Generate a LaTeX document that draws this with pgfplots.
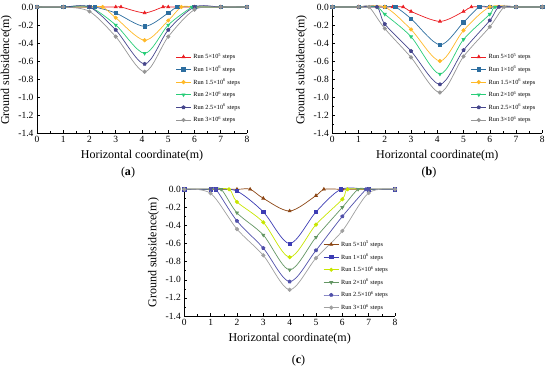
\documentclass[border=0pt]{standalone}
\usepackage{fontspec}
\setmainfont{Liberation Serif}
\usepackage{pgfplots}
\pgfplotsset{compat=1.18}
\usetikzlibrary{plotmarks}

\definecolor{aRed}{RGB}{235,30,35}
\definecolor{aBlue}{RGB}{45,110,160}
\definecolor{aOrange}{RGB}{255,185,40}
\definecolor{aGreen}{RGB}{40,205,120}
\definecolor{aPurple}{RGB}{70,70,140}
\definecolor{aGrey}{RGB}{150,150,150}
\definecolor{cBrown}{RGB}{140,70,20}
\definecolor{cBlue}{RGB}{60,60,180}
\definecolor{cYel}{RGB}{200,230,0}
\definecolor{cGreen}{RGB}{100,150,100}
\definecolor{cPurple}{RGB}{80,80,170}
\definecolor{cGrey}{RGB}{160,160,160}

\pgfplotsset{
 sub/.style={
  scale only axis, width=210pt, height=126pt,
  xmin=0,xmax=8,ymin=-1.4,ymax=0,
  axis lines=left, axis line style={-, line width=0.6pt},
  xtick={0,1,2,3,4,5,6,7,8},
  ytick={-1.4,-1.2,-1.0,-0.8,-0.6,-0.4,-0.2,0},
  minor x tick num=1, minor y tick num=1,
  tick align=inside, major tick length=3pt, minor tick length=1.5pt,
  tick style={black, line width=0.5pt},
  tick label style={font=\fontsize{9.5}{10}\selectfont},
  /pgf/number format/assume math mode=true,
  yticklabel style={/pgf/number format/.cd, fixed, fixed zerofill, precision=1},
  xlabel={Horizontal coordinate(m)}, ylabel={Ground subsidence(m)},
  label style={font=\fontsize{12}{14}\selectfont},
  clip=false,
  legend cell align=left,
  legend style={draw=none, fill=none, font=\fontsize{6.3}{7}\selectfont, anchor=north west, row sep=1.7pt},
  legend image code/.code={\draw[mark repeat=2,mark phase=2] plot coordinates {(0pt,0pt)(7.5pt,0pt)(15pt,0pt)};},
  every axis plot/.append style={smooth, line width=0.7pt, mark size=1.7pt},
 },
 dtri/.style={mark=triangle*, mark options={rotate=180}},
}

\begin{document}
\begin{tikzpicture}[x=1pt,y=1pt]
\useasboundingbox (0,0) rectangle (550,366);

% (a)
\begin{axis}[sub, at={(37pt,233pt)}, anchor=south west, legend style={at={(0.645,0.665)}}]
\addplot[color=aRed, mark=triangle*] coordinates {(0,0)(1,0)(2,0)(3,0)(3.2,0)(4.1,-0.065)(4.8,0)(5,0)(6,0)(7,0)(8,0)};
\addlegendentry{Run 5×10\textsuperscript{5} steps}
\addplot[color=aBlue, mark=square*] coordinates {(0,0)(1,0)(2,0)(2.2,0)(3,-0.067)(4.1,-0.215)(5,-0.067)(5.35,0)(6,0)(7,0)(8,0)};
\addlegendentry{Run 1×10\textsuperscript{6} steps}
\addplot[color=aOrange, mark=*] coordinates {(0,0)(1,0)(2,0)(2.5,0)(3,-0.12)(4.1,-0.37)(5,-0.15)(5.5,0)(6,0)(7,0)(8,0)};
\addlegendentry{Run 1.5×10\textsuperscript{6} steps}
\addplot[color=aGreen, dtri] coordinates {(0,0)(1,0)(2,0)(3,-0.2)(4.1,-0.515)(5,-0.2)(5.9,0)(6,0)(7,0)(8,0)};
\addlegendentry{Run 2×10\textsuperscript{6} steps}
\addplot[color=aPurple, mark=pentagon*] coordinates {(0,0)(1,0)(2,0)(3,-0.255)(4.1,-0.633)(5,-0.255)(6,0)(7,0)(8,0)};
\addlegendentry{Run 2.5×10\textsuperscript{6} steps}
\addplot[color=aGrey, mark=*] coordinates {(0,0)(1,0)(2,-0.05)(3,-0.33)(4.1,-0.72)(5,-0.33)(6,-0.03)(7,0)(8,0)};
\addlegendentry{Run 3×10\textsuperscript{6} steps}
\end{axis}

% (b)
\begin{axis}[sub, at={(332.3pt,233pt)}, anchor=south west, legend style={at={(0.645,0.665)}}]
\addplot[color=aRed, mark=triangle*] coordinates {(0,0)(1,0)(2,0)(2.3,0)(2.7,0)(3,-0.05)(4.1,-0.16)(5,-0.05)(5.3,0)(6,0)(7,0)(8,0)};
\addlegendentry{Run 5×10\textsuperscript{5} steps}
\addplot[color=aBlue, mark=square*] coordinates {(0,0)(1,0)(2,0)(2.4,0)(3,-0.13)(4.1,-0.42)(5,-0.17)(5.6,0)(6,0)(7,0)(8,0)};
\addlegendentry{Run 1×10\textsuperscript{6} steps}
\addplot[color=aOrange, mark=*] coordinates {(0,0)(1,0)(2,0)(3,-0.25)(4.1,-0.6)(5,-0.26)(6,0)(7,0)(8,0)};
\addlegendentry{Run 1.5×10\textsuperscript{6} steps}
\addplot[color=aGreen, dtri] coordinates {(0,0)(1,0)(1.7,0)(2,-0.08)(3,-0.33)(4.1,-0.745)(5,-0.36)(6,-0.08)(6.2,0)(7,0)(8,0)};
\addlegendentry{Run 2×10\textsuperscript{6} steps}
\addplot[color=aPurple, mark=pentagon*] coordinates {(0,0)(1,0)(1.7,0)(2,-0.19)(3,-0.49)(4.1,-0.86)(5,-0.48)(6,-0.15)(6.35,0)(7,0)(8,0)};
\addlegendentry{Run 2.5×10\textsuperscript{6} steps}
\addplot[color=aGrey, mark=*] coordinates {(0,0)(1,0)(1.4,0)(2,-0.24)(3,-0.56)(4.1,-0.95)(5,-0.55)(6,-0.22)(6.55,0)(7,0)(8,0)};
\addlegendentry{Run 3×10\textsuperscript{6} steps}
\end{axis}

% (c)
\begin{axis}[sub, width=210.7pt, height=126.7pt, at={(184.3pt,50pt)}, anchor=south west, legend style={at={(0.645,0.625)}}]
\addplot[color=cBrown, mark=triangle*] coordinates {(0,0)(1,0)(2,0)(2.5,0)(3,-0.1)(4,-0.24)(5,-0.07)(5.3,0)(6,0)(7,0)(8,0)};
\addlegendentry{Run 5×10\textsuperscript{5} steps}
\addplot[color=cBlue, mark=square*] coordinates {(0,0)(1,0)(1.2,0)(2,-0.02)(3,-0.25)(4,-0.6)(5,-0.25)(5.95,0)(7,0)(8,0)};
\addlegendentry{Run 1×10\textsuperscript{6} steps}
\addplot[color=cYel, mark=*] coordinates {(0,0)(1,0)(1.7,0)(2,-0.14)(3,-0.365)(4,-0.75)(5,-0.39)(6,-0.11)(6.2,0)(7,0)(8,0)};
\addlegendentry{Run 1.5×10\textsuperscript{6} steps}
\addplot[color=cGreen, dtri] coordinates {(0,0)(1,0)(1.4,0)(2,-0.26)(3,-0.505)(4,-0.89)(5,-0.53)(6,-0.2)(6.6,0)(7,0)(8,0)};
\addlegendentry{Run 2×10\textsuperscript{6} steps}
\addplot[color=cPurple, mark=pentagon*] coordinates {(0,0)(1,0)(1.2,0)(2,-0.35)(3,-0.65)(4,-1.02)(5,-0.675)(6,-0.3)(6.9,0)(7,0)(8,0)};
\addlegendentry{Run 2.5×10\textsuperscript{6} steps}
\addplot[color=cGrey, mark=*] coordinates {(0,0)(1,-0.045)(2,-0.44)(3,-0.73)(4,-1.11)(5,-0.76)(6,-0.46)(7,-0.04)(8,0)};
\addlegendentry{Run 3×10\textsuperscript{6} steps}
\end{axis}

\node[font=\fontsize{12}{14}\selectfont] at (128,193) {(\textbf{a})};
\node[font=\fontsize{12}{14}\selectfont] at (429,193) {(\textbf{b})};
\node[font=\fontsize{12}{14}\selectfont] at (298.5,5) {(\textbf{c})};
\end{tikzpicture}
\end{document}
